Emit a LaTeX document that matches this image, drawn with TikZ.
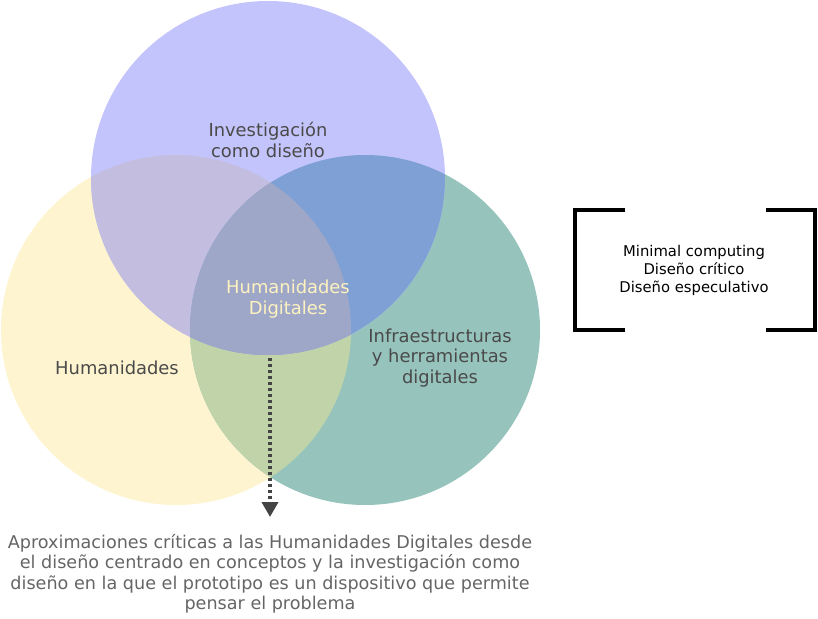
\documentclass[tikz,border=0pt]{standalone}
\usepackage{fontspec}
\setmainfont{DejaVu Sans}
\usetikzlibrary{arrows.meta}

\definecolor{lila}{HTML}{C4C4FC}
\definecolor{amarillo}{HTML}{FEF4CF}
\definecolor{verde}{HTML}{96C4BC}
\definecolor{amarilloverde}{HTML}{C1D4A9}
\definecolor{amarillolila}{HTML}{C3BEE0}
\definecolor{verdelila}{HTML}{7FA0D4}
\definecolor{centro}{HTML}{9EA7C8}
\definecolor{textogris}{HTML}{4A4A4A}
\definecolor{textoclaro}{HTML}{FDF2C0}
\definecolor{flecha}{HTML}{444444}

\begin{document}
\begin{tikzpicture}[x=1pt,y=-1pt,
    venn label/.style={align=center,font=\fontsize{17.9}{20.8}\selectfont,text=textogris},
    side label/.style={align=center,font=\fontsize{14.8}{18}\selectfont,text=black},
    note label/.style={align=center,font=\fontsize{17.6}{20.5}\selectfont,text=textogris!85},
    bracket line/.style={line width=3.6pt,black},
    dotted arrow/.style={-{Triangle[length=15pt,width=16pt]},line width=3.6pt,flecha,dash pattern=on 3pt off 3pt}]
    \useasboundingbox (0,0) rectangle (818,618);

    % centros de los circulos
    \coordinate (hum) at (176,330);
    \coordinate (inf) at (365,330);
    \coordinate (inv) at (268,178);

    \fill[amarillo] (hum) circle[radius=175pt];
    \fill[verde] (inf) circle[radius=175pt];
    \fill[lila] (inv) circle[radius=177pt];
    \begin{scope}
        \clip (hum) circle[radius=175pt];
        \fill[amarilloverde] (inf) circle[radius=175pt];
        \fill[amarillolila] (inv) circle[radius=177pt];
    \end{scope}
    \begin{scope}
        \clip (inf) circle[radius=175pt];
        \fill[verdelila] (inv) circle[radius=177pt];
        \clip (hum) circle[radius=175pt];
        \fill[centro] (inv) circle[radius=177pt];
    \end{scope}

    \node[venn label] (investigacion) at (268,140) {Investigación\\como diseño};
    \node[venn label,text=textoclaro] (hd) at (288,299) {Humanidades\\Digitales};
    \node[venn label] (humanidades) at (117,368) {Humanidades};
    \node[venn label] (infra) at (440,358) {Infraestructuras\\y herramientas\\digitales};

    \node[side label] (metodos) at (694,270) {Minimal computing\\Diseño crítico\\Diseño especulativo};
    \draw[bracket line] (625,210) -- (575,210) -- (575,330) -- (625,330);
    \draw[bracket line] (766,210) -- (815,210) -- (815,330) -- (766,330);

    \node[note label] (aprox) at (270,574) {Aproximaciones críticas a las Humanidades Digitales desde\\el diseño centrado en conceptos y la investigación como\\diseño en la que el prototipo es un dispositivo que permite\\pensar el problema};

    \coordinate (flecha inicio) at (270,358);
    \coordinate (flecha fin) at (270,517);
    \draw[dotted arrow] (flecha inicio) -- (flecha fin);
\end{tikzpicture}
\end{document}
